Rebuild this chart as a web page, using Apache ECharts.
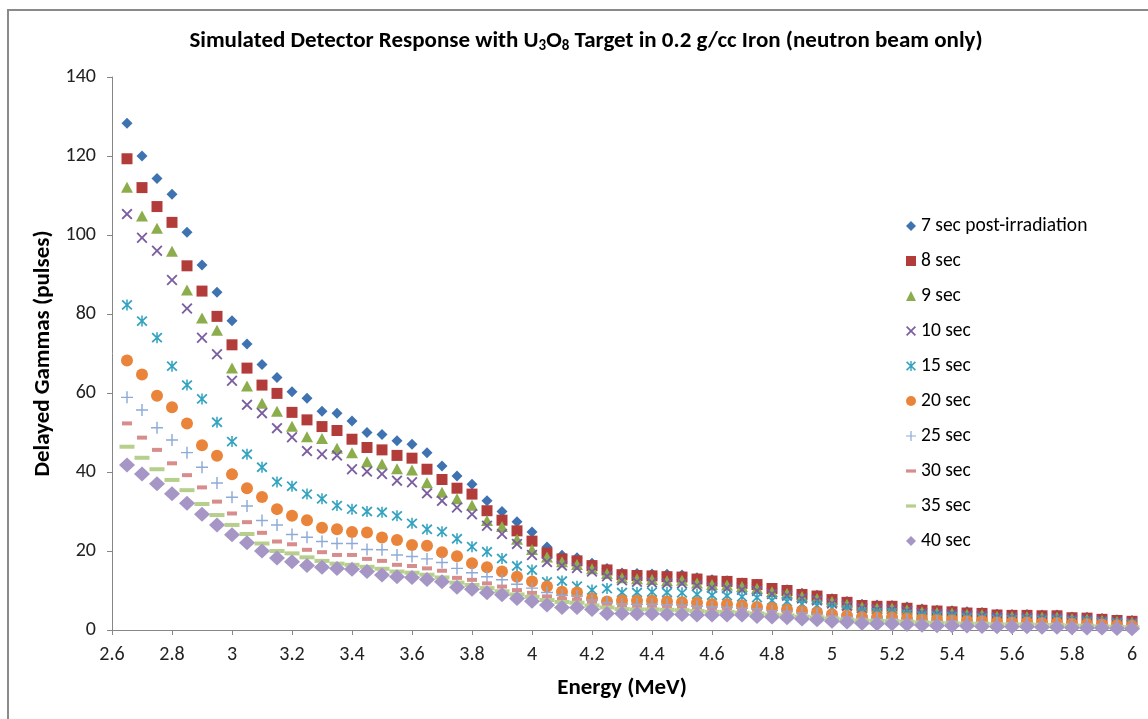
<!DOCTYPE html>
<html>
<head>
<meta charset="utf-8">
<script src="https://cdn.jsdelivr.net/npm/echarts@6/dist/echarts.min.js"></script>
<style>
    html, body { margin: 0; padding: 0; background: #fff; }
    #main { position: absolute; left: 0; top: 0; width: 1148px; height: 719px; }
    .frame {
        position: absolute; left: 7px; top: 9px; width: 1200px; height: 800px;
        border-left: 2px solid #8a8a8a; border-top: 2px solid #8a8a8a;
    }
</style>
</head>
<body>
<div class="frame"></div>
<div id="main"></div>
<script>
    // energy bins 2.65 .. 6.00 step 0.05
    var energy = [2.65,2.70,2.75,2.80,2.85,2.90,2.95,3.00,3.05,3.10,3.15,3.20,3.25,3.30,3.35,3.40,3.45,3.50,3.55,3.60,
        3.65,3.70,3.75,3.80,3.85,3.90,3.95,4.00,4.05,4.10,4.15,4.20,4.25,4.30,4.35,4.40,4.45,4.50,4.55,4.60,
        4.65,4.70,4.75,4.80,4.85,4.90,4.95,5.00,5.05,5.10,5.15,5.20,5.25,5.30,5.35,5.40,5.45,5.50,5.55,5.60,
        5.65,5.70,5.75,5.80,5.85,5.90,5.95,6.00];

    var sec7 = [128.3,120.0,114.3,110.3,100.7,92.4,85.5,78.3,72.4,67.2,63.9,60.3,58.7,55.4,54.9,52.9,50.0,49.5,47.9,47.0,
        44.9,41.5,39.0,36.9,32.7,30.0,27.4,24.8,21.0,18.9,18.3,16.9,15.6,14.4,14.3,14.2,14.1,13.9,13.2,12.7,
        12.5,11.9,11.6,10.6,10.2,9.3,8.8,7.9,7.2,6.5,6.3,6.2,5.8,5.3,5.0,4.9,4.6,4.4,4.0,3.9,
        3.9,3.8,3.8,3.3,3.2,2.9,2.6,2.4];
    var sec8 = [119.3,112.0,107.2,103.2,92.2,85.8,79.4,72.2,66.3,62.0,59.9,55.1,53.2,51.5,50.5,48.3,46.2,45.6,44.2,43.5,
        40.7,38.1,35.9,34.4,30.2,27.8,25.1,22.5,19.5,18.0,17.5,16.3,15.2,14.0,13.8,13.7,13.5,13.4,12.9,12.4,
        12.3,11.8,11.5,10.5,10.0,9.0,8.6,7.7,7.0,6.2,6.0,6.0,5.5,5.0,4.8,4.6,4.3,4.2,3.8,3.7,
        3.7,3.6,3.6,3.1,3.0,2.7,2.4,2.2];
    var sec9 = [112.1,104.8,101.7,95.9,86.1,79.0,75.9,66.3,61.8,57.4,55.4,51.6,48.9,48.5,46.0,44.9,42.6,42.0,40.8,40.5,
        37.3,34.9,33.2,31.6,27.7,26.2,23.0,20.4,18.5,17.3,16.6,15.5,14.3,13.2,13.0,12.8,12.5,12.6,11.9,11.5,
        11.4,11.0,10.6,9.7,9.3,8.5,8.0,7.2,6.5,5.8,5.6,5.6,5.1,4.6,4.4,4.3,4.0,3.9,3.5,3.4,
        3.4,3.3,3.3,2.9,2.8,2.5,2.2,2.0];
    var sec10 = [105.3,99.3,96.0,88.6,81.4,74.0,69.8,63.1,57.0,54.9,51.1,48.8,45.3,44.5,44.2,40.7,40.1,39.5,37.8,37.4,
        34.6,32.7,31.0,29.3,26.4,24.3,21.8,19.0,17.2,16.3,15.7,14.8,13.6,12.6,12.2,12.0,11.8,11.8,11.2,10.7,
        10.6,10.2,9.9,9.1,8.7,8.0,7.5,6.7,6.1,5.5,5.2,5.2,4.8,4.3,4.1,4.0,3.7,3.6,3.2,3.1,
        3.1,3.0,3.0,2.6,2.5,2.3,2.0,1.8];
    var sec15 = [82.3,78.2,74.0,66.8,62.0,58.5,52.6,47.7,44.5,41.2,37.5,36.4,34.4,33.2,31.5,30.6,30.0,29.8,28.9,27.0,
        25.5,24.9,23.1,21.1,19.8,18.1,16.2,15.2,12.2,12.4,11.1,10.1,10.5,9.5,9.5,9.6,9.5,9.4,9.0,8.8,
        8.7,8.4,8.2,7.5,7.2,6.6,6.2,5.6,5.1,4.6,4.4,4.4,4.0,3.6,3.5,3.4,3.1,3.0,2.7,2.6,
        2.6,2.5,2.5,2.2,2.1,1.9,1.7,1.5];
    var sec20 = [68.2,64.7,59.3,56.4,52.3,46.8,44.1,39.4,35.9,33.7,30.6,28.9,27.8,25.9,25.5,24.8,24.7,23.4,22.8,21.5,
        21.3,19.7,18.7,16.9,15.9,14.8,13.5,12.3,11.0,9.7,9.5,8.0,7.2,7.5,7.4,7.4,7.2,7.0,6.9,6.5,
        6.5,6.2,5.8,5.6,5.2,4.8,4.4,4.0,3.6,3.3,3.2,3.2,2.9,2.6,2.5,2.4,2.2,2.2,1.9,1.9,
        1.9,1.8,1.8,1.6,1.5,1.4,1.2,1.1];
    var sec25 = [58.9,55.7,51.2,48.1,44.9,41.2,37.2,33.6,31.4,27.7,26.6,24.2,23.5,22.4,21.9,21.9,20.4,20.3,19.0,18.6,
        18.0,17.1,15.6,14.5,13.5,12.7,11.6,10.6,9.5,8.8,8.6,7.6,7.0,6.6,6.5,6.5,6.4,6.3,6.0,5.8,
        5.7,5.5,5.3,4.9,4.7,4.3,4.0,3.6,3.3,3.0,2.9,2.9,2.6,2.4,2.3,2.2,2.0,2.0,1.8,1.7,
        1.7,1.6,1.6,1.4,1.4,1.2,1.1,1.0];
    var sec30 = [52.3,48.7,45.6,42.2,39.2,36.1,32.5,29.5,27.3,24.6,22.4,21.7,20.3,19.7,19.0,19.0,18.0,17.5,16.5,16.2,
        15.6,15.0,13.2,12.7,11.8,11.0,10.1,9.4,8.5,7.9,7.7,6.9,6.3,5.9,5.8,5.8,5.7,5.6,5.3,5.1,
        5.1,4.9,4.7,4.3,4.1,3.8,3.6,3.2,2.9,2.6,2.5,2.5,2.3,2.1,2.0,1.9,1.8,1.7,1.5,1.5,
        1.5,1.4,1.4,1.2,1.2,1.0,0.9,0.8];
    var sec35 = [46.4,43.6,40.7,38.0,35.4,31.9,29.1,26.6,24.3,21.9,20.0,19.4,18.4,17.5,16.8,16.5,16.0,15.5,14.8,14.5,
        14.0,13.3,12.0,11.4,10.6,9.8,9.0,8.4,7.6,7.1,6.9,6.2,5.7,5.3,5.2,5.2,5.1,5.0,4.8,4.6,
        4.6,4.4,4.2,3.9,3.7,3.4,3.2,2.9,2.6,2.4,2.3,2.3,2.1,1.9,1.8,1.7,1.6,1.6,1.4,1.4,
        1.4,1.3,1.3,1.1,1.1,0.9,0.8,0.7];
    var sec40 = [41.8,39.5,37.0,34.5,32.1,29.3,26.6,24.1,22.1,20.0,18.2,17.3,16.3,15.9,15.6,15.4,14.8,13.9,13.5,13.3,
        12.8,12.2,10.8,10.3,9.4,8.9,8.0,7.3,6.3,5.7,5.7,5.2,4.2,4.2,4.1,4.1,4.0,3.9,3.8,3.8,
        3.8,3.8,3.4,3.3,3.1,2.8,2.6,2.2,2.0,1.7,1.6,1.6,1.4,1.2,1.1,1.1,1.0,0.9,0.8,0.8,
        0.8,0.7,0.7,0.6,0.5,0.5,0.4,0.3];

    var seriesNames = ['7 sec post-irradiation','8 sec','9 sec','10 sec','15 sec','20 sec','25 sec','30 sec','35 sec','40 sec'];
    var seriesData = [sec7, sec8, sec9, sec10, sec15, sec20, sec25, sec30, sec35, sec40];

    var xPath = 'path://M0,1.2L1.2,0L5,3.8L8.8,0L10,1.2L6.2,5L10,8.8L8.8,10L5,6.2L1.2,10L0,8.8L3.8,5Z';
    var starPath = 'path://M0,1.5L1.2,0.3L5,4.1L8.8,0.3L10,1.5L6.2,5L10,8.5L8.8,9.7L5,5.9L1.2,9.7L0,8.5L3.8,5Z M4.3,0H5.7V10H4.3Z';
    var plusPath = 'path://M4.4,0H5.6V4.4H10V5.6H5.6V10H4.4V5.6H0V4.4H4.4Z';
    var dashPath = 'path://M0,0H10V3.2H0Z';

    var styles = [
        { symbol: 'diamond', size: [11, 11], color: '#3f72b0' },
        { symbol: 'rect', size: [11, 11], color: '#b23c3a' },
        { symbol: 'triangle', size: [12, 11], color: '#8cad4c' },
        { symbol: xPath, size: [11, 11], color: '#7b5ea0' },
        { symbol: starPath, size: [11, 11], color: '#34a3c0' },
        { symbol: 'circle', size: [12, 12], color: '#e9843a' },
        { symbol: plusPath, size: [12, 12], color: '#8eaad8' },
        { symbol: dashPath, size: [10, 4], color: '#d68d8b' },
        { symbol: dashPath, size: [15, 4], color: '#b7cf8c' },
        { symbol: 'diamond', size: [16, 15], color: '#a696c6' }
    ];

    var series = [];
    for (var s = 0; s < seriesData.length; s++) {
        var pts = [];
        for (var i = 0; i < energy.length; i++) {
            pts.push([energy[i], seriesData[s][i]]);
        }
        series.push({
            name: seriesNames[s],
            type: 'scatter',
            data: pts,
            symbol: styles[s].symbol,
            symbolSize: styles[s].size,
            itemStyle: { color: styles[s].color, opacity: 1 },
            emphasis: { disabled: true }
        });
    }

    var font = 'Carlito, "Liberation Sans", sans-serif';
    var chart = echarts.init(document.getElementById('main'));
    chart.setOption({
        animation: false,
        textStyle: { fontFamily: font },
        title: {
            text: 'Simulated Detector Response with U{sub|3}O{sub|8} Target in 0.2 g/cc Iron (neutron beam only)',
            left: 581,
            top: 24,
            textAlign: 'center',
            textStyle: {
                fontFamily: font, fontSize: 23, fontWeight: 'bold', color: '#000',
                rich: { sub: { fontFamily: font, fontSize: 15, fontWeight: 'bold', color: '#000', verticalAlign: 'bottom', padding: [10, 0, 0, 0] } }
            }
        },
        legend: {
            orient: 'vertical',
            left: 901,
            top: 211,
            itemWidth: 10,
            itemHeight: 10,
            itemGap: 15,
            textStyle: { fontFamily: font, fontSize: 19.5, color: '#000' },
            data: seriesNames
        },
        grid: { left: 112, right: 16, top: 77, bottom: 89 },
        xAxis: {
            type: 'value',
            min: 2.6,
            max: 6,
            interval: 0.2,
            name: 'Energy (MeV)',
            nameLocation: 'middle',
            nameGap: 47,
            nameTextStyle: { fontFamily: font, fontSize: 23, fontWeight: 'bold', color: '#000' },
            axisLine: { onZero: false, lineStyle: { color: '#868686', width: 1 } },
            axisTick: { show: true, length: 5, lineStyle: { color: '#868686' } },
            axisLabel: { margin: 15, fontSize: 20, color: '#222', fontFamily: font },
            splitLine: { show: false }
        },
        yAxis: {
            type: 'value',
            min: 0,
            max: 140,
            interval: 20,
            name: 'Delayed Gammas (pulses)',
            nameLocation: 'middle',
            nameGap: 55,
            nameTextStyle: { fontFamily: font, fontSize: 23, fontWeight: 'bold', color: '#000' },
            axisLine: { show: true, lineStyle: { color: '#868686', width: 1 } },
            axisTick: { show: true, length: 5, lineStyle: { color: '#868686' } },
            axisLabel: { margin: 16, fontSize: 20, color: '#222', fontFamily: font },
            splitLine: { show: false }
        },
        series: series
    });

    window.onresize = function () {
        chart.resize();
    };
</script>
</body>
</html>
